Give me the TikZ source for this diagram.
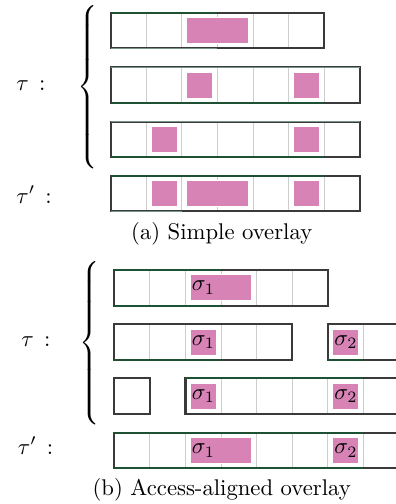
\documentclass[tikz,border=0pt]{standalone}
\usepackage{amsmath}
\definecolor{pinkc}{RGB}{215,131,182}
\definecolor{outc}{RGB}{58,58,58}
\definecolor{grnc}{RGB}{30,80,52}
\definecolor{divc}{RGB}{205,205,205}
\newcommand\cw{35.6}
\tikzset{
  divider/.style={draw=divc, line width=0.45pt},
  outline/.style={draw=outc, line width=0.9pt},
  gline/.style={draw=grnc, line width=0.9pt},
  glight/.style={draw=grnc!60!white, line width=0.5pt},
  pinkbox/.style={fill=pinkc, draw=white, line width=0.45pt},
  lab/.style={anchor=base west, inner sep=0pt},
  sig/.style={anchor=west, inner sep=0.6pt},
  captext/.style={anchor=base, inner sep=0pt},
}
% tape: x, y, n
\newcommand\tape[3]{%
  \begin{scope}[shift={(#1,#2)}]
    \ifnum#3>1
      \foreach \i in {2,...,#3} {\draw[divider] ({(\i-1)*\cw},0) -- ({(\i-1)*\cw},\cw);}
    \fi
    \draw[outline] (0,0) rectangle ({#3*\cw},\cw);
  \end{scope}}
% pink: x, y (tape origin), first cell offset, last cell offset
\newcommand\pk[4]{%
  \fill[pinkbox] ({#1+#3*\cw+4.8},{#2+4.8}) rectangle ({#1+#4*\cw-4.8},{#2+\cw-4.8});}
\begin{document}
\begin{tikzpicture}[x=0.4405pt,y=-0.4405pt]
\useasboundingbox (0,0) rectangle (396,504);
\clip (0,0) rectangle (396,504);
% ---------- (a) ----------
\def\xa{110.7}
\tape{\xa}{12.7}{6}
\pk{\xa}{12.7}{2}{4}
\draw[gline] (\xa,12.7) -- ({\xa+3*\cw},12.7);
\draw[glight] (\xa,{12.7+\cw}) -- ({\xa+3*\cw},{12.7+\cw});
\tape{\xa}{67.3}{7}
\pk{\xa}{67.3}{2}{3}
\pk{\xa}{67.3}{5}{6}
\draw[glight] (\xa,67.3) -- ({\xa+7*\cw},67.3);
\draw[gline] (\xa,{67.3+\cw}) -- ({\xa+6*\cw},{67.3+\cw});
\tape{\xa}{121.7}{7}
\pk{\xa}{121.7}{1}{2}
\pk{\xa}{121.7}{5}{6}
\draw[glight] (\xa,121.7) -- ({\xa+7*\cw},121.7);
\draw[gline] (\xa,{121.7+\cw}) -- ({\xa+6*\cw},{121.7+\cw});
\tape{\xa}{175.7}{7}
\pk{\xa}{175.7}{1}{2}
\pk{\xa}{175.7}{2}{4}
\pk{\xa}{175.7}{5}{6}
\draw[gline] (\xa,175.7) -- ({\xa+6*\cw},175.7);
\draw[glight] (\xa,{175.7+\cw}) -- ({\xa+2*\cw},{175.7+\cw});
\node[inner sep=0pt] (braceA) at (88.5,89.5) {$\left\{\vrule height 35.5pt depth 35.5pt width 0pt\right.$};
\node[lab] (tauA) at (16,90.7) {$\tau\,:$};
\node[lab] (tauPA) at (16,203) {$\tau'\,:$};
\node[captext] (capA) at (221.7,239.5) {(a) Simple overlay};
% ---------- (b) ----------
\def\xb{114.3}
\tape{\xb}{270}{6}
\fill[pinkbox] ({\xb+2*\cw+4.8},{270+4.8}) rectangle ({\xb+4*\cw-4.8},{270+\cw-4.8});
\node[sig] (s11) at ({\xb+2*\cw+4.6},{270+\cw/2}) {$\sigma_1$};
\draw[gline] (\xb,270) -- ({\xb+3*\cw},270);
\draw[gline] (\xb,{270+\cw}) -- ({\xb+3*\cw},{270+\cw});
% row 2
\tape{\xb}{324.3}{5}
\tape{\xb+6*\cw}{324.3}{3}
\fill[pinkbox] ({\xb+2*\cw+4.8},{324.3+4.8}) rectangle ({\xb+3*\cw-4.8},{324.3+\cw-4.8});
\node[sig] (s21) at ({\xb+2*\cw+4.6},{324.3+\cw/2}) {$\sigma_1$};
\fill[pinkbox] ({\xb+6*\cw+4.8},{324.3+4.8}) rectangle ({\xb+7*\cw-4.8},{324.3+\cw-4.8});
\node[sig] (s22) at ({\xb+6*\cw+4.6},{324.3+\cw/2}) {$\sigma_2$};
\draw[gline] (\xb,{324.3+\cw}) -- ({\xb+3*\cw},{324.3+\cw});
\draw[gline] ({\xb+6*\cw},{324.3+\cw}) -- ({\xb+7*\cw},{324.3+\cw});
% row 3
\tape{\xb}{378.3}{1}
\tape{\xb+2*\cw}{378.3}{7}
\fill[pinkbox] ({\xb+2*\cw+4.8},{378.3+4.8}) rectangle ({\xb+3*\cw-4.8},{378.3+\cw-4.8});
\node[sig] (s31) at ({\xb+2*\cw+4.6},{378.3+\cw/2}) {$\sigma_1$};
\fill[pinkbox] ({\xb+6*\cw+4.8},{378.3+4.8}) rectangle ({\xb+7*\cw-4.8},{378.3+\cw-4.8});
\node[sig] (s32) at ({\xb+6*\cw+4.6},{378.3+\cw/2}) {$\sigma_2$};
\draw[gline] ({\xb+2*\cw},378.3) -- ({\xb+7*\cw},378.3);
% tau' row
\tape{\xb}{432.7}{9}
\fill[pinkbox] ({\xb+2*\cw+4.8},{432.7+4.8}) rectangle ({\xb+4*\cw-4.8},{432.7+\cw-4.8});
\node[sig] (s41) at ({\xb+2*\cw+4.6},{432.7+\cw/2}) {$\sigma_1$};
\fill[pinkbox] ({\xb+6*\cw+4.8},{432.7+4.8}) rectangle ({\xb+7*\cw-4.8},{432.7+\cw-4.8});
\node[sig] (s42) at ({\xb+6*\cw+4.6},{432.7+\cw/2}) {$\sigma_2$};
\draw[gline] (\xb,432.7) -- ({\xb+7*\cw},432.7);
\draw[gline] (\xb,{432.7+\cw}) -- ({\xb+7*\cw},{432.7+\cw});
\node[inner sep=0pt] (braceB) at (91,345) {$\left\{\vrule height 35.5pt depth 35.5pt width 0pt\right.$};
\node[lab] (tauB) at (21,346.5) {$\tau\,:$};
\node[lab] (tauPB) at (17.5,454) {$\tau'\,:$};
\node[captext] (capB) at (221.7,495) {(b) Access-aligned overlay};
\end{tikzpicture}
\end{document}
